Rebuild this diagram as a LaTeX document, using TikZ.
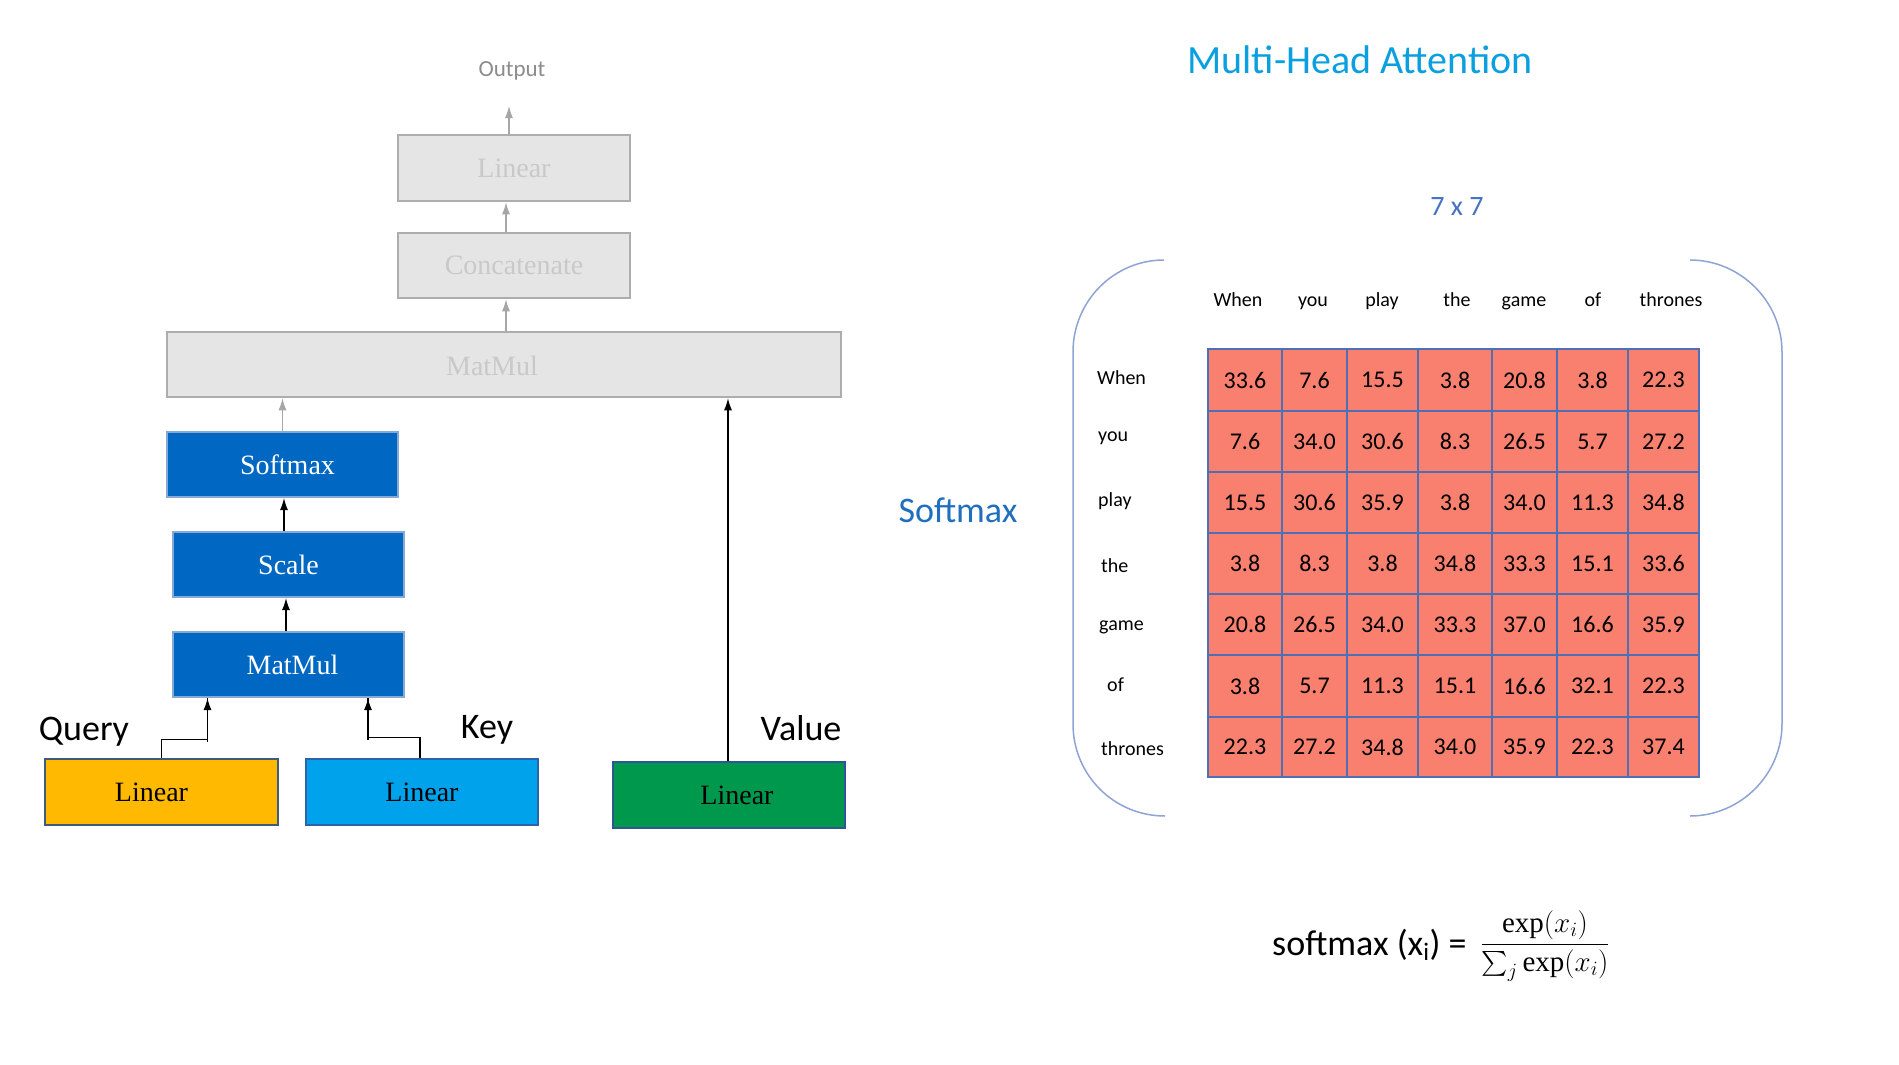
\RequirePackage{fix-cm}
\documentclass[tikz,border=0pt]{standalone}
\usepackage{exscale}
\usepackage{fontspec}
\setmainfont{Liberation Serif}
\newfontfamily\calf{Carlito}
\usetikzlibrary{arrows.meta}
\definecolor{grayf}{HTML}{E5E5E5}
\definecolor{grayb}{HTML}{ADADAD}
\definecolor{grayt}{HTML}{C9C9C9}
\definecolor{grayarr}{HTML}{A6A6A6}
\definecolor{outc}{HTML}{8C8C8C}
\definecolor{bluef}{HTML}{0068C2}
\definecolor{blueb}{HTML}{86A9D6}
\definecolor{qfill}{HTML}{FFB900}
\definecolor{qbord}{HTML}{3E5B7E}
\definecolor{kfill}{HTML}{00A2EC}
\definecolor{kbord}{HTML}{2E62A8}
\definecolor{vfill}{HTML}{00984C}
\definecolor{vbord}{HTML}{2F5597}
\definecolor{titlec}{HTML}{0AA0E0}
\definecolor{sevenc}{HTML}{4472C4}
\definecolor{smc}{HTML}{1E6FBF}
\definecolor{cellf}{HTML}{F9806F}
\definecolor{cellb}{HTML}{4F6FB5}
\definecolor{brc}{HTML}{8FA3D4}
\begin{document}
\begin{tikzpicture}[x=1pt,y=-1pt,
  box/.style={rectangle,inner sep=0pt,line width=2.5pt,font=\fontsize{28}{30}\selectfont},
  graybox/.style={box,draw=grayb,fill=grayf,text=grayt},
  bluebox/.style={box,draw=blueb,fill=bluef,text=white,line width=2pt},
  arr/.style={line width=1.3pt,-{Latex[length=12pt,width=8pt]}},
  garr/.style={arr,draw=grayarr,fill=grayarr},
  conn/.style={line width=1.3pt},
  hdr/.style={font=\calf\fontsize{20}{22}\selectfont,inner sep=0pt},
  num/.style={font=\calf\fontsize{24}{26}\selectfont,inner sep=0pt},
  qkv/.style={font=\calf\fontsize{36}{40}\selectfont,inner sep=0pt}]
\fill[white] (0,0) rectangle (1899,1065);
\useasboundingbox (0,0) rectangle (1899,1065);

% ---------- left: attention block ----------
\node[font=\calf\fontsize{23}{25}\selectfont,text=outc,inner sep=0pt] (out) at (512,71) {Output};
\coordinate (otip) at (509,106);
\node[graybox,minimum width=232pt,minimum height=66pt] (gl) at (514,168) {Linear};
\node[graybox,minimum width=232pt,minimum height=65pt] (cc) at (514,265.5) {Concatenate};
\node[graybox,minimum width=674pt,minimum height=65pt] (gm) at (504,364.5) {};
\node[font=\fontsize{28}{30}\selectfont,text=grayt,inner sep=0pt] (gmt) at (492,366) {MatMul};

\node[bluebox,minimum width=231pt,minimum height=65pt] (sm) at (282.5,464.5) {\hspace*{10pt}Softmax};
\node[bluebox,minimum width=231pt,minimum height=65pt] (sc) at (288.5,564.5) {Scale};
\node[bluebox,minimum width=231pt,minimum height=65pt] (mm) at (288.5,664.5) {\hspace*{8pt}MatMul};

\node[box,draw=qbord,fill=qfill,minimum width=233pt,minimum height=66pt] (ql) at (161.5,792) {Linear\hspace*{20pt}};
\node[box,draw=kbord,fill=kfill,minimum width=232pt,minimum height=66pt] (kl) at (422,792) {Linear};
\node[box,draw=vbord,fill=vfill,minimum width=232pt,minimum height=66pt] (vl) at (729,795) {\hspace*{16pt}Linear};

\node[qkv] (qt) at (84,732) {Query};
\node[qkv] (kt) at (487,730) {Key};
\node[qkv] (vt) at (801,728) {Value};

% connectors
\draw[garr] ([xshift=-5pt]gl.north) -- (otip);
\draw[garr] ([xshift=-8pt]cc.north) -- ([xshift=-8pt]cc.north |- gl.south);
\draw[garr] ([xshift=-8pt]cc.south |- gm.north) -- ([xshift=-8pt]cc.south);
\draw[garr] (sm.north) -- (sm.north |- gm.south);
\draw[arr] ([xshift=-4.5pt]sc.north) -- ([xshift=-4.5pt]sc.north |- sm.south);
\draw[arr] ([xshift=-2.5pt]mm.north) -- ([xshift=-2.5pt]mm.north |- sc.south);
\draw[conn] (ql.north) -- ++(0,-18) -| ([xshift=-81pt]mm.south);
\draw[arr] ([xshift=-81pt]mm.south) ++(0,44) -- ([xshift=-81pt]mm.south);
\draw[conn] ([xshift=-2pt]kl.north) -- ++(0,-20) -| ([xshift=79.5pt]mm.south);
\draw[arr] ([xshift=79.5pt]mm.south) ++(0,42) -- ([xshift=79.5pt]mm.south);
\draw[arr] ([xshift=-1pt]vl.north) -- ([xshift=224pt]gm.south);

% ---------- right: softmax matrix ----------
\node[font=\calf\fontsize{40}{44}\selectfont,text=titlec,inner sep=0pt] (title) at (1360,60) {Multi-Head Attention};
\node[font=\calf\fontsize{28}{30}\selectfont,text=sevenc,inner sep=0pt] (seven) at (1457,207) {7 x 7};
\node[font=\calf\fontsize{36}{40}\selectfont,text=smc,inner sep=0pt] (smlab) at (958,510) {Softmax};

% bracket
\draw[brc,line width=1.5pt] (1164,260) .. controls (1114,260) and (1073,301) .. (1073,352)
  -- (1073,724) .. controls (1073,775) and (1114,816) .. (1165,816);
\draw[brc,line width=1.5pt] (1690,260) .. controls (1740,260) and (1782,301) .. (1782,352)
  -- (1782,724) .. controls (1782,775) and (1740,816) .. (1690,816);

% header and row labels
\foreach \w/\x [count=\k] in {When/1238,you/1313,play/1382,the/1457,game/1524,of/1593,thrones/1671}
  \node[hdr,anchor=base] (h\k) at (\x,306) {\w};
\foreach \w/\x/\y [count=\k] in {When/1097/384,you/1098/441,play/1098/506,the/1101/572,game/1099/630,of/1107/691,thrones/1101/755}
  \node[hdr,anchor=base west] (r\k) at (\x,\y) {\w};

% cells
\def\colx{{1208,1282,1347,1418,1492,1557,1628,1699}}
\def\rowy{{349,411,472,533,594,655,717,777}}
\fill[cellf] (1208,349) rectangle (1699,777);
\foreach \row [count=\i from 0] in {
  {33.6,7.6,15.5,3.8,20.8,3.8,22.3},
  {7.6,34.0,30.6,8.3,26.5,5.7,27.2},
  {15.5,30.6,35.9,3.8,34.0,11.3,34.8},
  {3.8,8.3,3.8,34.8,33.3,15.1,33.6},
  {20.8,26.5,34.0,33.3,37.0,16.6,35.9},
  {3.8,5.7,11.3,15.1,16.6,32.1,22.3},
  {22.3,27.2,34.8,34.0,35.9,22.3,37.4}} {
  \foreach \v [count=\j from 0] in \row {
    \pgfmathsetmacro{\xl}{\colx[\j]}
    \pgfmathsetmacro{\xr}{\colx[\j+1]}
    \pgfmathsetmacro{\yt}{\rowy[\i]}
    \pgfmathsetmacro{\yb}{\rowy[\i+1]}
    \draw[cellb,line width=2pt] (\xl,\yt) rectangle (\xr,\yb);
    \node[num] (c-\i-\j) at ({(\xl+\xr)/2},{(\yt+\yb)/2}) {\v};
  }
}

% formula
\node[anchor=base west,inner sep=0pt,font=\calf\fontsize{36}{40}\selectfont] (fl) at (1272,955) {softmax (x\textsubscript{i}) =};
\node[inner sep=0pt,font=\fontsize{29}{34}\selectfont] (fr) at (1545,946) {$\displaystyle\frac{\exp(x_i)}{\sum_j \exp(x_i)}$};
\end{tikzpicture}
\end{document}
